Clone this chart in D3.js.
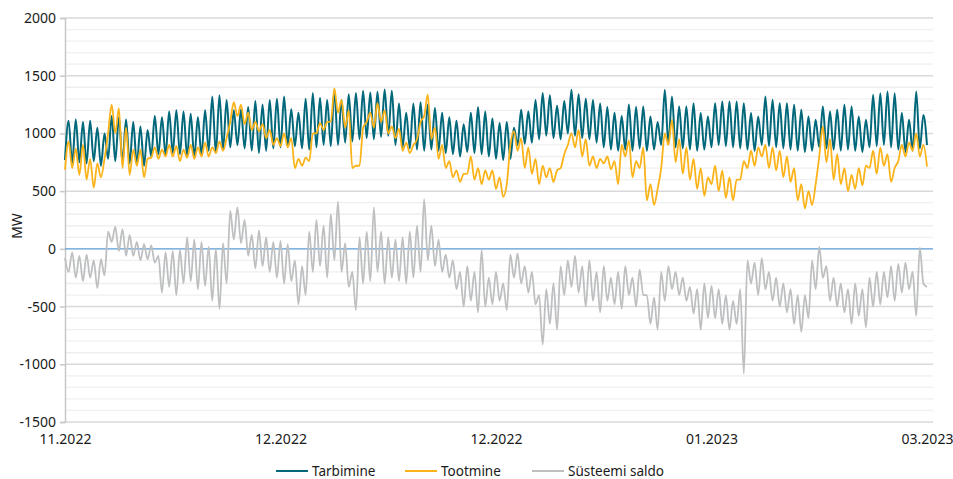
<!DOCTYPE html>
<html><head><meta charset="utf-8">
<script src="https://cdn.jsdelivr.net/npm/d3@7"></script>
<style>
body{margin:0;background:#fff}
svg{display:block}
text{font-family:"Noto Sans",sans-serif;fill:#1a1a1a}
</style>
</head><body>
<svg id="c" width="953" height="479"></svg>
<script>
// x tick labels (positions in half-day steps)
const xTickLabels = ["11.2022","12.2022","12.2022","01.2023","03.2023"];
const xTickIdx = [0, 60, 120, 180, 240];
const yMajor = [-1500,-1000,-500,0,500,1000,1500,2000];
const seriesNames = ["Tarbimine","Tootmine","Süsteemi saldo"];

// values at half-day steps (night, day), MW
const tarbimine = [
 770,1110, 740,1120, 750,1100, 740,1110, 760,1050, 720,1000, 780,1150, 760,1140, 750,1120, 740,1100,
 730,1060, 720,1030, 800,1150, 820,1140, 810,1190, 830,1200, 820,1190, 800,1170, 790,1140, 810,1200,
 850,1320, 830,1330, 860,1290, 880,1200, 900,1210, 870,1230, 850,1280, 830,1250, 850,1290, 870,1300,
 880,1320, 900,1210, 890,1180, 870,1300, 860,1350, 880,1310, 900,1290, 890,1375, 900,1290, 920,1340,
 930,1350, 950,1370, 960,1355, 950,1360, 970,1380, 980,1370, 900,1260, 880,1180, 870,1260, 860,1270,
 850,1250, 860,1220, 850,1180, 830,1140, 820,1110, 800,1080, 840,1180, 830,1230, 820,1190, 800,1130,
 780,1090, 770,1100, 780,1050, 900,1205, 910,1190, 920,1290, 950,1350, 980,1330, 960,1240, 950,1280,
 1000,1378, 980,1340, 960,1300, 950,1290, 920,1260, 880,1230, 860,1180, 850,1150, 860,1250, 850,1230,
 870,1233, 850,1147, 860,1100, 900,1378, 910,1320, 880,1233, 870,1233, 860,1262, 850,1176, 860,1147,
 880,1262, 900,1277, 890,1277, 880,1277, 870,1262, 860,1176, 850,1147, 900,1320, 890,1291, 880,1262,
 870,1262, 860,1248, 850,1205, 840,1147, 850,1118, 880,1233, 870,1190, 860,1205, 850,1248, 860,1233,
 850,1147, 840,1118, 880,1335, 890,1349, 900,1364, 880,1349, 860,1176, 840,1118, 850,1364, 870,1160,
 900
];
const tootmine = [
 685,930, 700,870, 640,900, 600,780, 530,740, 620,780, 1000,1250, 1000,1220, 700,1050, 640,860,
 720,860, 620,780, 790,880, 780,860, 800,900, 800,890, 760,860, 790,900, 780,880, 800,920,
 800,880, 830,930, 850,960, 1100,1270, 1150,1250, 1080,1180, 1030,1100, 1020,1080, 960,1030, 900,960,
 890,1000, 880,960, 700,780, 720,790, 760,1000, 1000,1090, 1030,1100, 1100,1390, 1180,1290, 1050,1200,
 700,720, 720,1050, 1100,1180, 1050,1262, 1100,1200, 1000,1060, 960,1040, 850,920, 830,900, 950,1100,
 1150,1335, 950,1050, 780,900, 700,760, 620,680, 580,650, 650,800, 600,700, 560,680, 600,680,
 520,620, 450,560, 900,1020, 850,960, 700,880, 650,780, 560,720, 620,700, 580,680, 700,820,
 900,1000, 880,1031, 800,950, 720,800, 700,780, 740,800, 690,760, 560,900, 800,940, 620,760,
 700,880, 420,560, 380,520, 700,1000, 900,1118, 750,950, 650,880, 600,780, 520,700, 460,620,
 560,720, 500,680, 440,620, 420,600, 600,760, 700,850, 720,880, 800,900, 700,880, 680,850,
 620,800, 580,700, 420,560, 350,500, 380,560, 800,1060, 750,950, 600,820, 560,700, 500,640,
 520,700, 550,720, 700,850, 650,880, 720,820, 580,700, 760,900, 800,920, 850,1000, 800,900,
 713
];
const saldo = [
 -80,-200, -30,-250, -60,-280, -50,-250, -100,-340, -90,-230, 150,60, 190,-20, 170,-60, 120,-60,
 60,-100, 40,-90, 30,-120, -60,-380, -30,-330, -20,-400, -10,-300, 100,-280, 80,-350, 60,-320,
 20,-450, 0,-520, 50,-300, 330,80, 360,50, 250,-60, 120,-170, 160,-150, 100,-200, 60,-250,
 70,-300, 40,-280, -100,-480, -150,-400, 150,-200, 250,-150, 200,-250, 300,-100, 410,-200, 50,-330,
 -200,-530, 100,-300, 150,-280, 360,-200, 150,-300, 100,-250, 80,-280, 100,-300, 150,-250, 200,-200,
 430,-100, 200,-150, 80,-200, -50,-250, -100,-350, -200,-500, -150,-450, -200,-550, -10,-500, -250,-480,
 -200,-450, -300,-530, -50,-250, -40,-300, -150,-380, -200,-480, -400,-830, -350,-650, -300,-700, -150,-400,
 -100,-330, -60,-380, -150,-500, -100,-450, -200,-550, -150,-450, -250,-480, -200,-520, -150,-400, -250,-500,
 -180,-400, -400,-650, -420,-700, -200,-450, -150,-350, -200,-400, -250,-450, -330,-560, -350,-700, -300,-600,
 -320,-600, -350,-650, -400,-700, -450,-650, -350,-1080, -100,-300, -120,-400, -80,-350, -200,-450, -250,-500,
 -300,-550, -350,-650, -400,-720, -400,-600, -100,-350, 20,-250, -150,-450, -250,-500, -300,-550, -350,-650,
 -300,-580, -350,-680, -250,-500, -200,-480, -200,-420, -150,-450, -130,-380, -120,-350, -200,-580, 10,-300,
 -330
];

const colors = ["#00687a", "#fbb31a", "#bdbfc1"];

const svg = d3.select("#c");
const x = d3.scaleLinear().domain([0, 240]).range([65, 927]);
const y = d3.scaleLinear().domain([-1500, 2000]).range([422, 18]);
const plotRight = 933;

// minor gridlines
const minor = d3.range(-1500, 2001, 100).filter(v => v % 500 !== 0);
svg.append("g").selectAll("line").data(minor).join("line")
  .attr("x1", 65).attr("x2", plotRight)
  .attr("y1", d => y(d)).attr("y2", d => y(d))
  .attr("stroke", "#efefef").attr("stroke-width", 1.3);

// major gridlines
svg.append("g").selectAll("line").data(yMajor.filter(v => v !== 0)).join("line")
  .attr("x1", 65).attr("x2", plotRight)
  .attr("y1", d => y(d)).attr("y2", d => y(d))
  .attr("stroke", "#d9d9d9").attr("stroke-width", 1.5);

// y axis
const yAxis = d3.axisLeft(y).tickValues(yMajor).tickSize(5).tickPadding(4).tickFormat(d => String(d));
const gy = svg.append("g").attr("transform", "translate(65,0)").call(yAxis);
gy.select(".domain").attr("stroke", "#c8c8c8").attr("stroke-width", 1.5);
gy.selectAll(".tick line").attr("stroke", "#c8c8c8").attr("stroke-width", 1.5);
gy.selectAll(".tick text").attr("font-size", 14).attr("font-family", "Noto Sans").attr("fill", "#1a1a1a");

// x axis labels
const xAxis = d3.axisBottom(x).tickValues(xTickIdx).tickSize(0).tickPadding(12)
  .tickFormat((d, i) => xTickLabels[i]);
const gx = svg.append("g").attr("transform", "translate(0,422)").call(xAxis);
gx.select(".domain").remove();
gx.selectAll(".tick text").attr("font-size", 14).attr("font-family", "Noto Sans").attr("fill", "#1a1a1a");

// y axis title
svg.append("text").attr("transform", "translate(22,226) rotate(-90)")
  .attr("text-anchor", "middle").attr("font-size", 14).text("MW");

// lines
const line = d3.line().x((d, i) => x(i)).y(d => y(d)).curve(d3.curveMonotoneX);
const paths = [];
[tarbimine, tootmine, saldo].forEach((s, k) => {
  paths.push(svg.append("path").datum(s).attr("d", line)
    .attr("fill", "none").attr("stroke", colors[k])
    .attr("stroke-width", k === 0 ? 2 : 1.8).attr("stroke-linejoin", "round"));
});

// zero line
svg.append("line").attr("x1", 65).attr("x2", plotRight)
  .attr("y1", y(0)).attr("y2", y(0))
  .attr("stroke", "#5b9bd5").attr("stroke-width", 1.3);
paths[2].raise();

// legend
const legX = [276, 405, 532];
const lg = svg.append("g").attr("transform", "translate(0,471)");
seriesNames.forEach((n, k) => {
  lg.append("line").attr("x1", legX[k]).attr("x2", legX[k] + 32)
    .attr("y1", 0).attr("y2", 0).attr("stroke", colors[k]).attr("stroke-width", 2);
  lg.append("text").attr("x", legX[k] + 36).attr("y", 5).attr("font-size", 13.5).text(n);
});
</script>
</body></html>
